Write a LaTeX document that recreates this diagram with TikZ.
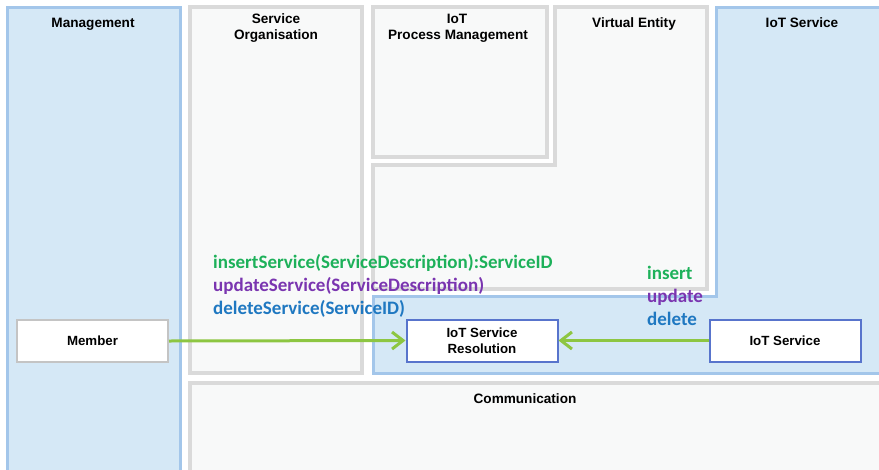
\documentclass[tikz,border=0pt]{standalone}
\usepackage{fontspec}
\setmainfont{Liberation Sans}
\newfontfamily\callig{Carlito}
\usetikzlibrary{arrows.meta}
\definecolor{paleblue}{HTML}{D5E8F6}
\definecolor{blueedge}{HTML}{A3C6EA}
\definecolor{palegrey}{HTML}{F8F9F9}
\definecolor{greyedge}{HTML}{DADADA}
\definecolor{boxblue}{HTML}{5874CC}
\definecolor{boxgrey}{HTML}{C4C4C4}
\definecolor{flowgreen}{HTML}{8DC642}
\definecolor{txtgreen}{HTML}{1DB15A}
\definecolor{txtpurple}{HTML}{7A35B0}
\definecolor{txtblue}{HTML}{1F78C1}
\tikzset{
  bluearea/.style={fill=paleblue, draw=blueedge, line width=3pt},
  greyarea/.style={fill=palegrey, draw=greyedge, line width=3.5pt},
  areatitle/.style={font=\bfseries\fontsize{13.6}{15}\selectfont, anchor=base, inner sep=0pt, align=center},
  fcbox/.style={fill=white, line width=2pt, minimum width=151pt, minimum height=42pt, inner sep=0pt,
    font=\bfseries\fontsize{13.3}{16}\selectfont, align=center},
  flow/.style={draw=flowgreen, line width=3pt, -{Straight Barb[length=11pt,width=17pt,line width=3pt]}},
  msg/.style={font=\callig\bfseries\fontsize{19}{21}\selectfont, anchor=base west, inner sep=0pt}
}
\begin{document}
\begin{tikzpicture}[x=1pt,y=-1pt]
\useasboundingbox (0,0) rectangle (879,469);
\clip (0,0) rectangle (879,469);
\fill[white] (0,0) rectangle (879,469);

% functional groups
\draw[bluearea] (7,7) rectangle (180,490);
\draw[greyarea] (190,7) rectangle (362,373);
\draw[greyarea] (373,7) rectangle (547,157);
\draw[greyarea] (555,7) -- (707,7) -- (707,289) -- (373,289) -- (373,165) -- (555,165) -- cycle;
\draw[bluearea] (716,7) -- (895,7) -- (895,373) -- (373,373) -- (373,296) -- (716,296) -- cycle;
\draw[greyarea] (190,383) rectangle (895,490);

% group titles
\node[areatitle] (tman) at (93,27) {Management};
\node[areatitle] (tso1) at (276,23) {Service};
\node[areatitle] (tso2) at (276,39) {Organisation};
\node[areatitle] (tpm1) at (457,23) {IoT};
\node[areatitle] (tpm2) at (458,39) {Process Management};
\node[areatitle] (tve) at (634,27) {Virtual Entity};
\node[areatitle] (tis) at (802,27) {IoT Service};
\node[areatitle] (tcom) at (525,403) {Communication};

% functional components
\node[fcbox, draw=boxgrey] (member) at (92.5,341) {Member};
\node[fcbox, draw=boxblue] (resol) at (482,340.5) {IoT Service\\Resolution};
\node[fcbox, draw=boxblue] (iotsvc) at (785,340.5) {IoT Service};

% interactions
\draw[flow] (member.east) -- (resol.west);
\draw[flow] (iotsvc.west) -- (resol.east);

% operation labels
\node[msg, text=txtgreen] (m1) at (213,268) {insertService(ServiceDescription):ServiceID};
\node[msg, text=txtpurple] (m2) at (213,291) {updateService(ServiceDescription)};
\node[msg, text=txtblue] (m3) at (213,314) {deleteService(ServiceID)};
\node[msg, text=txtgreen] (o1) at (647,279) {insert};
\node[msg, text=txtpurple] (o2) at (647,302) {update};
\node[msg, text=txtblue] (o3) at (647,325) {delete};
\end{tikzpicture}
\end{document}
